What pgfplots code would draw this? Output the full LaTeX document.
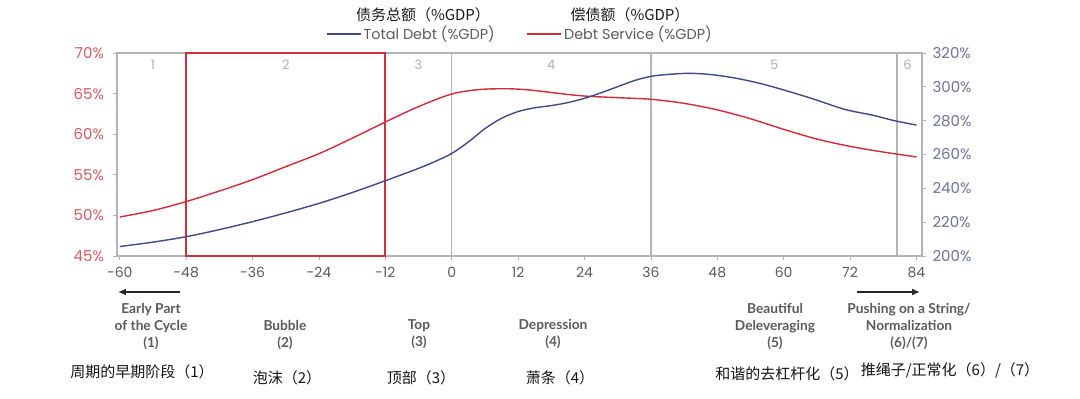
\documentclass[border=0pt]{standalone}
\usepackage{pgfplots}
\pgfplotsset{compat=1.18}
\usepackage{fontspec}
\setmainfont{Poppins}
\newfontfamily\lato{Lato}
\newfontfamily\cjk{Noto Sans CJK SC}
\usetikzlibrary{arrows.meta}
\definecolor{dsred}{HTML}{D42A35}
\definecolor{tdblue}{HTML}{3F4A8A}
\definecolor{boxred}{HTML}{D0303A}
\definecolor{axgray}{HTML}{B4B4B4}
\definecolor{lblred}{HTML}{D65A62}
\definecolor{lblblue}{HTML}{6E7299}
\definecolor{lblgray}{HTML}{5A5A5A}
\definecolor{numgray}{HTML}{B0B0B0}

\pgfplotstableread{
x y
-60 49.8
-54 50.6
-48 51.7
-42 53.0
-36 54.4
-30 56.0
-24 57.6
-18 59.5
-12 61.5
-6 63.4
0 64.95
5 65.5
10 65.6
14 65.45
19 65.05
24 64.7
30 64.5
36 64.3
42 63.8
48 63.0
54 61.9
60 60.6
66 59.4
72 58.5
78 57.8
84 57.2
}\debtservice

\pgfplotstableread{
x y
-60 205.6
-54 208.2
-48 211.4
-42 215.6
-36 220.3
-30 225.5
-24 231.1
-18 237.5
-12 244.5
-6 251.8
-3 255.9
0 260.6
3 267.4
6 275.3
9 281.4
12 285.4
15 287.6
18 288.9
21 290.7
24 293.2
27 296.5
30 300.1
33 303.7
36 306.2
39 307.3
43 308.0
47 307.2
51 305.3
55 302.6
59 299.1
65 293.2
71 286.7
76 283.3
80 280.0
84 277.4
}\totaldebt

\begin{document}
\begin{tikzpicture}
\useasboundingbox (-117pt,-143pt) rectangle (963pt,256pt);
\begin{axis}[
  at={(0pt,0pt)}, anchor=south west,
  scale only axis, width=805pt, height=203pt,
  xmin=-60.5, xmax=85, ymin=45, ymax=70,
  xtick={-60,-48,...,84},
  ytick={45,50,...,70},
  yticklabel={\pgfmathprintnumber{\tick}\%},
  /pgf/number format/assume math mode=true,
  xtick pos=bottom, ytick pos=left,
  tick align=outside, major tick length=4pt,
  tick style={axgray, line width=0.8pt},
  axis line style={axgray, line width=1.2pt},
  ticklabel style={font=\fontsize{14}{16}\selectfont},
  yticklabel style={color=lblred, xshift=-5.5pt, font=\fontsize{15}{17}\selectfont},
  xticklabel style={color=lblgray, yshift=-4pt},
  clip=false,
  legend columns=2,
  legend style={at={(0.5006,1.094)}, anchor=center, draw=none, fill=none,
    font=\fontsize{14.4}{16}\selectfont\color{lblgray},
    /tikz/every even column/.append style={column sep=30pt}},
  legend image code/.code={\draw[#1] (0pt,0pt) -- (34pt,0pt);},
]
\addlegendimage{tdblue, line width=1.4pt}
\addlegendentry{Total Debt (\%GDP)}
\draw[axgray, line width=1.4pt] (axis cs:0,45) -- (axis cs:0,70);
\draw[axgray, line width=1.4pt] (axis cs:36,45) -- (axis cs:36,70);
\draw[axgray, line width=1.4pt] (axis cs:80.5,45) -- (axis cs:80.5,70);
\addplot[dsred, line width=1.4pt, smooth, tension=0.5] table[x=x,y=y] {\debtservice};
\addlegendentry{Debt Service (\%GDP)}
\draw[boxred, line width=2pt] (axis cs:-48,45) rectangle (axis cs:-12,70);
\node[numgray, font=\fontsize{13}{15}\selectfont] at (axis cs:-54,68.6) {1};
\node[numgray, font=\fontsize{13}{15}\selectfont] at (axis cs:-30,68.6) {2};
\node[numgray, font=\fontsize{13}{15}\selectfont] at (axis cs:-6,68.6) {3};
\node[numgray, font=\fontsize{13}{15}\selectfont] at (axis cs:18,68.6) {4};
\node[numgray, font=\fontsize{13}{15}\selectfont] at (axis cs:58.3,68.6) {5};
\node[numgray, font=\fontsize{13}{15}\selectfont] at (axis cs:82.4,68.6) {6};
\end{axis}
\begin{axis}[
  at={(0pt,0pt)}, anchor=south west,
  scale only axis, width=805pt, height=203pt,
  xmin=-60.5, xmax=85, ymin=200, ymax=320,
  axis x line=none, axis y line*=right,
  ytick={200,220,...,320},
  yticklabel={\pgfmathprintnumber{\tick}\%},
  /pgf/number format/assume math mode=true,
  tick align=outside, major tick length=4pt,
  tick style={axgray, line width=0.8pt},
  axis line style={axgray, line width=1.2pt},
  ticklabel style={font=\fontsize{15}{17}\selectfont},
  yticklabel style={color=lblblue, xshift=3pt},
]
\addplot[tdblue, line width=1.4pt, smooth, tension=0.5] table[x=x,y=y] {\totaldebt};
\end{axis}
% headers
\node[font=\cjk\fontsize{15}{17}\selectfont, text=black!90] at (306pt,241pt) {债务总额（\%GDP）};
\node[font=\cjk\fontsize{15}{17}\selectfont, text=black!90] at (513pt,241pt) {偿债额（\%GDP）};
% arrows
\draw[black!85, line width=1.6pt, -{Latex[length=8pt,width=7pt]}] (63pt,-36pt) -- (1pt,-36pt);
\draw[black!85, line width=1.6pt, -{Latex[length=8pt,width=7pt]}] (740pt,-36pt) -- (803pt,-36pt);
% English phase labels
\begin{scope}[every node/.style={align=center, text=lblgray, font=\lato\bfseries\fontsize{13.7}{17}\selectfont}]
\node at (34pt,-70pt) {Early Part\\of the Cycle\\(1)};
\node at (168pt,-78.5pt) {Bubble\\(2)};
\node at (302pt,-78.5pt) {Top\\(3)};
\node at (436pt,-78.5pt) {Depression\\(4)};
\node at (658pt,-70pt) {Beautiful\\Deleveraging\\(5)};
\node at (792pt,-70pt) {Pushing on a String/\\Normalization\\(6)/(7)};
\end{scope}
% Chinese phase labels
\begin{scope}[every node/.style={text=black!92, font=\cjk\fontsize{15}{17}\selectfont}]
\node at (25pt,-116pt) {周期的早期阶段（1）};
\node at (170pt,-122pt) {泡沫（2）};
\node at (304pt,-122pt) {顶部（3）};
\node at (443pt,-122pt) {萧条（4）};
\node at (670pt,-118pt) {和谐的去杠杆化（5）};
\node at (833pt,-114pt) {推绳子/正常化（6）/（7）};
\end{scope}
\end{tikzpicture}
\end{document}
